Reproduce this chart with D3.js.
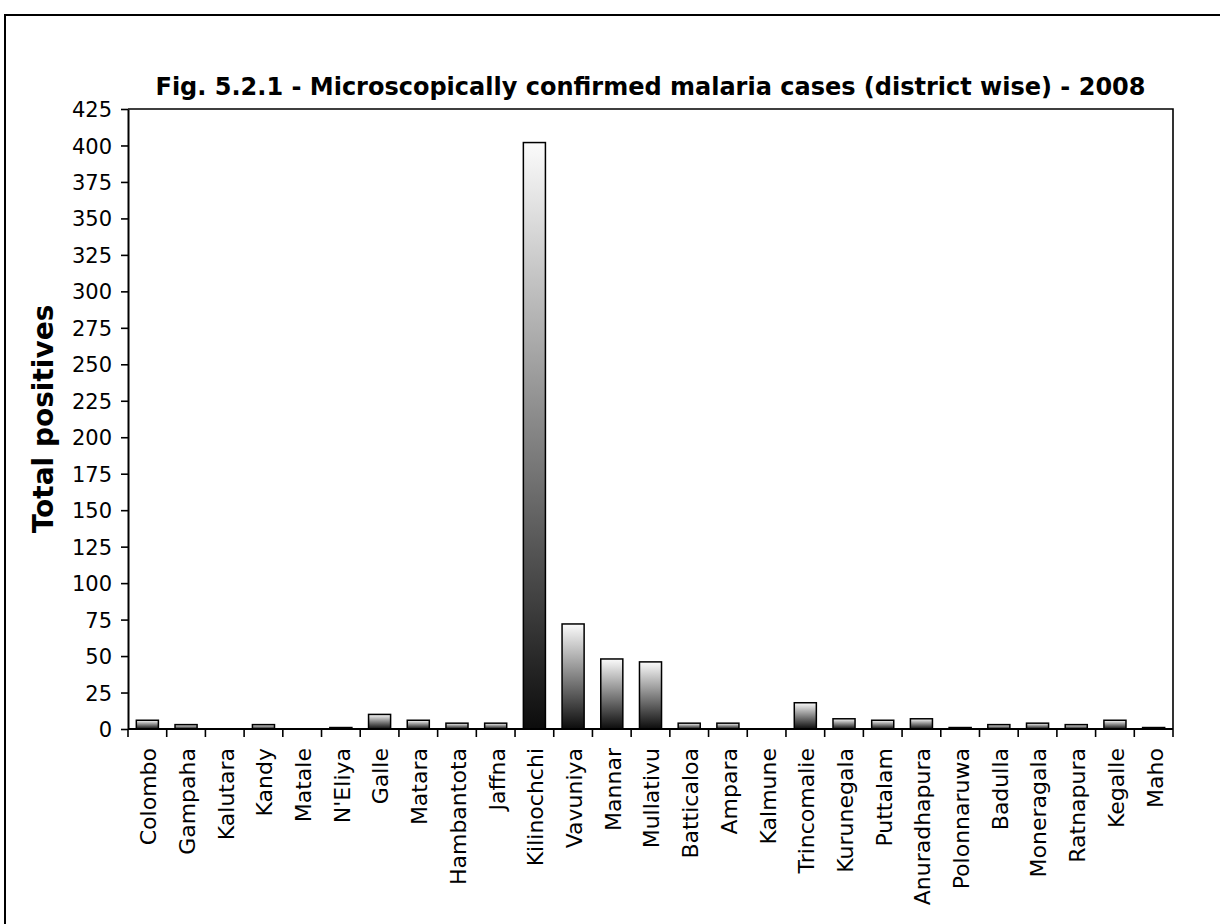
<!DOCTYPE html>
<html>
<head>
<meta charset="utf-8">
<script src="https://cdn.jsdelivr.net/npm/d3@7"></script>
<style>
  html, body { margin: 0; padding: 0; background: #fff; }
  svg { display: block; }
  text { font-family: "DejaVu Sans", Verdana, sans-serif; fill: #000; }
</style>
</head>
<body>
<svg id="chart" width="1220" height="924"></svg>
<script>
// District-wise microscopically confirmed malaria cases, 2008
const districts = ["Colombo", "Gampaha", "Kalutara", "Kandy", "Matale", "N'Eliya", "Galle",
  "Matara", "Hambantota", "Jaffna", "Kilinochchi", "Vavuniya", "Mannar", "Mullativu",
  "Batticaloa", "Ampara", "Kalmune", "Trincomalie", "Kurunegala", "Puttalam",
  "Anuradhapura", "Polonnaruwa", "Badulla", "Moneragala", "Ratnapura", "Kegalle", "Maho"];
const positives = [6, 3, 0, 3, 0, 1, 10, 6, 4, 4, 402, 72, 48, 46, 4, 4, 0, 18, 7, 6, 7, 1, 3, 4, 3, 6, 1];
const yTicks = [0, 25, 50, 75, 100, 125, 150, 175, 200, 225, 250, 275, 300, 325, 350, 375, 400, 425];
const titleText = "Fig. 5.2.1 - Microscopically confirmed malaria cases (district wise) - 2008";
const yLabel = "Total positives";

const svg = d3.select("#chart");
const plot = { left: 128, right: 1173, top: 109, bottom: 729 };

// outer frame (runs past the right and bottom edges)
svg.append("rect")
  .attr("x", 5).attr("y", 15).attr("width", 1400).attr("height", 1200)
  .attr("fill", "none").attr("stroke", "#000").attr("stroke-width", 2);

// vertical gradient used by every bar: light at the top, dark at the base
const grad = svg.append("defs").append("linearGradient")
  .attr("id", "barGrad").attr("x1", 0).attr("y1", 0).attr("x2", 0).attr("y2", 1);
grad.append("stop").attr("offset", "0%").attr("stop-color", "#fbfbfb");
grad.append("stop").attr("offset", "100%").attr("stop-color", "#0c0c0c");

const x = d3.scaleBand().domain(districts).range([plot.left, plot.right]).padding(0);
const y = d3.scaleLinear().domain([0, 425]).range([plot.bottom, plot.top]);

// plot area box (top and right)
svg.append("path")
  .attr("d", `M${plot.left},${plot.top}H${plot.right}V${plot.bottom}`)
  .attr("fill", "none").attr("stroke", "#000").attr("stroke-width", 1.6);

// bars
const barW = x.bandwidth() * 0.57;
svg.append("g").selectAll("rect")
  .data(districts.map((d, i) => ({ d, v: positives[i] })).filter(e => e.v > 0))
  .join("rect")
  .attr("x", e => x(e.d) + (x.bandwidth() - barW) / 2)
  .attr("y", e => y(e.v))
  .attr("width", barW)
  .attr("height", e => y(0) - y(e.v))
  .attr("fill", "url(#barGrad)")
  .attr("stroke", "#000")
  .attr("stroke-width", 1.5);

// y axis
const yAxis = svg.append("g")
  .attr("transform", `translate(${plot.left},0)`)
  .call(d3.axisLeft(y).tickValues(yTicks).tickSize(7).tickPadding(9).tickSizeOuter(0));
yAxis.select(".domain").attr("stroke-width", 2);
yAxis.selectAll(".tick line").attr("stroke-width", 1.6);
yAxis.selectAll(".tick text").style("font-size", "21px").attr("dy", "0.36em");

// x axis: baseline, ticks on category boundaries, rotated labels
const xAxis = svg.append("g")
  .attr("transform", `translate(0,${plot.bottom})`)
  .call(d3.axisBottom(x).tickSize(0).tickPadding(0));
xAxis.select(".domain").attr("stroke-width", 2).attr("d", `M${plot.left},0H${plot.right}`);
xAxis.selectAll(".tick text")
  .style("font-size", "22px")
  .attr("text-anchor", "end")
  .attr("transform", "translate(1,19) rotate(-90)")
  .attr("x", 0).attr("y", 0).attr("dy", "0.36em");

const bounds = districts.map(d => x(d)).concat([plot.right]);
xAxis.append("g").selectAll("line")
  .data(bounds)
  .join("line")
  .attr("x1", d => d).attr("x2", d => d)
  .attr("y1", 0).attr("y2", 8)
  .attr("stroke", "#000").attr("stroke-width", 1.6);

// title
svg.append("text")
  .attr("x", (plot.left + plot.right) / 2).attr("y", 95)
  .attr("text-anchor", "middle")
  .style("font-size", "24px").style("font-weight", "bold")
  .text(titleText);

// y axis label
svg.append("text")
  .attr("transform", `translate(53,${(plot.top + plot.bottom) / 2}) rotate(-90)`)
  .attr("text-anchor", "middle")
  .style("font-size", "28px").style("font-weight", "bold")
  .text(yLabel);
</script>
</body>
</html>
